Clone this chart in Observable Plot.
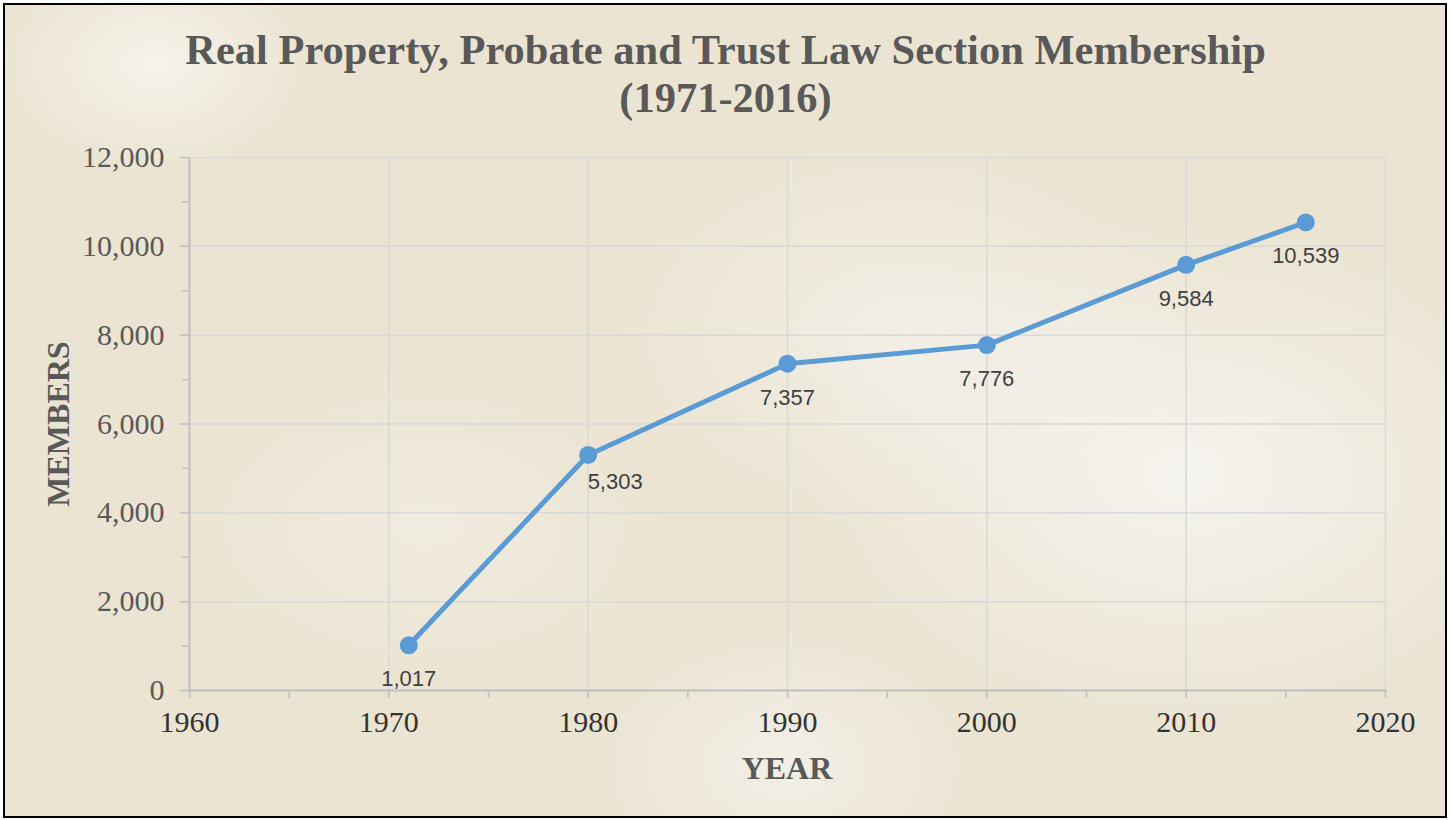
<!DOCTYPE html>
<html>
<head>
<meta charset="utf-8">
<script src="https://cdn.jsdelivr.net/npm/d3@7"></script>
<script src="https://cdn.jsdelivr.net/npm/@observablehq/plot@0.6"></script>
<style>
  html, body { margin: 0; padding: 0; background: #fff; }
  #page { position: relative; width: 1451px; height: 820px; overflow: hidden; }
  #frame {
    position: absolute; left: 3px; top: 3px; width: 1440px; height: 811px;
    border: 2px solid #000;
    background:
      radial-gradient(ellipse 160px 110px at 150px 60px, rgba(255,255,255,0.55), rgba(255,255,255,0) 100%),
      radial-gradient(ellipse 380px 260px at 1180px 470px, rgba(246,244,240,0.95), rgba(246,244,240,0) 100%),
      radial-gradient(ellipse 300px 200px at 900px 330px, rgba(244,241,235,0.8), rgba(244,241,235,0) 100%),
      radial-gradient(ellipse 250px 160px at 420px 520px, rgba(243,239,230,0.7), rgba(243,239,230,0) 100%),
      radial-gradient(ellipse 200px 140px at 780px 760px, rgba(245,242,236,0.8), rgba(245,242,236,0) 100%),
      #ebe4d2;
  }
  .title {
    position: absolute; left: 0; width: 1451px; text-align: center;
    font-family: "Liberation Serif", "Times New Roman", serif; font-weight: bold;
    font-size: 42.5px; color: #595959; line-height: 48px;
  }
  .axlabel {
    position: absolute; font-family: "Liberation Serif", "Times New Roman", serif;
    font-weight: bold; font-size: 32px; color: #595959; white-space: nowrap;
  }
  #chart { position: absolute; left: 0; top: 0; }
</style>
</head>
<body>
<div id="page">
  <div id="frame"></div>
  <div class="title" style="top: 26px;">Real Property, Probate and Trust Law Section Membership<br>(1971-2016)</div>
  <div id="chart"></div>
  <div class="axlabel" id="ylab" style="left: 58px; top: 424px; transform: translate(-50%, -50%) rotate(-90deg);">MEMBERS</div>
  <div class="axlabel" id="xlab" style="left: 787px; top: 768px; transform: translate(-50%, -50%);">YEAR</div>
</div>
<script>
const years = [1971, 1980, 1990, 2000, 2010, 2016];
const members = [1017, 5303, 7357, 7776, 9584, 10539];
const xMajorTicks = [1960, 1970, 1980, 1990, 2000, 2010, 2020];
const xMinorTicks = [1965, 1975, 1985, 1995, 2005, 2015];
const yMajorTicks = [0, 2000, 4000, 6000, 8000, 10000, 12000];
const yMinorTicks = [1000, 3000, 5000, 7000, 9000, 11000];

const data = years.map((y, i) => ({year: y, members: members[i]}));
const fmt = d3.format(",");
const blue = "#5b9bd5";
const serif = "Liberation Serif, Times New Roman, serif";

const chart = Plot.plot({
  width: 1451,
  height: 820,
  marginLeft: 189,
  marginRight: 66,
  marginTop: 157,
  marginBottom: 130,
  style: {background: "transparent", overflow: "visible"},
  x: {domain: [1960, 2020]},
  y: {domain: [0, 12000]},
  marks: [
    Plot.gridY(yMajorTicks, {stroke: "#d9d9d9", strokeOpacity: 1, strokeWidth: 1.5}),
    Plot.gridX(xMajorTicks, {stroke: "#d9d9d9", strokeOpacity: 1, strokeWidth: 1.5}),
    Plot.axisY(yMajorTicks, {tickSize: 9, tickPadding: 16, tickFormat: fmt, stroke: "#bfbfbf", strokeWidth: 1.5,
      fill: "#595959", fontSize: 30, fontFamily: serif, label: null}),
    Plot.axisY(yMinorTicks, {tickSize: 7, text: null, stroke: "#bfbfbf", strokeWidth: 1.5, label: null}),
    Plot.axisX(xMinorTicks, {tickSize: 8, text: null, stroke: "#bfbfbf", strokeWidth: 1.5, label: null}),
    Plot.axisX(xMajorTicks, {tickSize: 8, tickPadding: 12, tickFormat: d => String(d), stroke: "#bfbfbf", strokeWidth: 1.5,
      fill: "#333333", fontSize: 30, fontFamily: serif, label: null}),
    Plot.ruleY([0], {stroke: "#bfbfbf", strokeWidth: 2}),
    Plot.ruleX([1960], {stroke: "#bfbfbf", strokeWidth: 2}),
    Plot.line(data, {x: "year", y: "members", stroke: blue, strokeWidth: 5}),
    Plot.dot(data, {x: "year", y: "members", r: 9, fill: blue, stroke: null}),
    Plot.text(data.filter(d => d.year !== 1980), {x: "year", y: "members", text: d => fmt(d.members),
      dy: 34, fill: "#404040", fontSize: 22, fontFamily: "Liberation Sans, Arial, sans-serif"}),
    Plot.text(data.filter(d => d.year === 1980), {x: "year", y: "members", text: d => fmt(d.members),
      dx: 27, dy: 27, fill: "#404040", fontSize: 22, fontFamily: "Liberation Sans, Arial, sans-serif"})
  ]
});
document.getElementById("chart").appendChild(chart);
</script>
</body>
</html>
